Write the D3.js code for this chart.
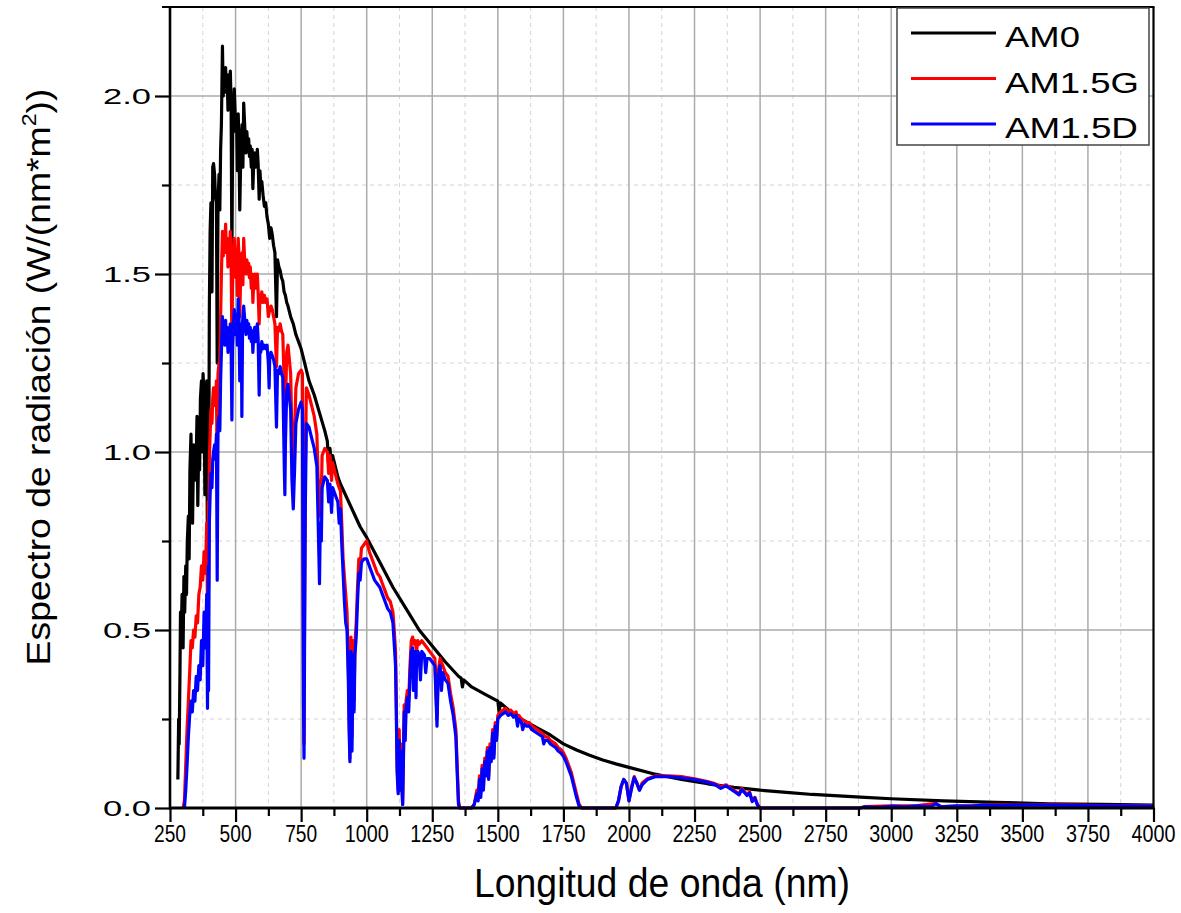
<!DOCTYPE html>
<html><head><meta charset="utf-8">
<script src="https://cdn.jsdelivr.net/npm/d3@7"></script>
<style>
body{margin:0;background:#fff}
svg{display:block}
text{font-family:"Liberation Sans",Arial,sans-serif;fill:#000}
</style>
</head><body>
<svg id="chart" width="1181" height="913"></svg>
<script>
// ---- data (wavelength nm, irradiance W/(nm*m^2)) ----
const am0 = [[280,0.08],[283,0.25],[285,0.18],[288,0.38],[290,0.55],[293,0.48],[296,0.60],[300,0.45],[303,0.65],[306,0.55],[310,0.68],[313,0.60],[316,0.75],[320,0.82],[323,0.70],[326,0.95],[330,1.05],[333,0.90],[336,0.80],[340,1.02],[343,0.92],[346,1.00],[350,0.98],[353,1.10],[356,0.85],[360,1.05],[363,0.95],[366,1.15],[370,1.20],[373,1.00],[376,1.22],[380,1.15],[383,0.88],[386,1.08],[390,1.20],[393,0.65],[396,1.15],[397,0.75],[400,1.40],[403,1.62],[406,1.70],[410,1.45],[413,1.80],[416,1.81],[420,1.78],[423,1.72],[427,1.70],[430,1.25],[433,1.70],[437,1.78],[440,1.68],[443,1.85],[446,1.92],[450,2.14],[453,2.00],[456,2.06],[459,2.04],[462,2.08],[465,2.01],[468,2.06],[471,1.96],[474,2.04],[477,2.03],[480,2.07],[483,1.98],[486,1.55],[489,1.90],[492,1.95],[495,2.02],[498,1.96],[501,1.90],[504,1.93],[507,1.79],[510,1.95],[513,1.88],[516,1.68],[519,1.80],[522,1.87],[525,1.92],[528,1.80],[531,1.98],[534,1.93],[537,1.88],[540,1.84],[543,1.90],[546,1.86],[550,1.88],[553,1.83],[556,1.86],[560,1.80],[563,1.85],[566,1.74],[570,1.83],[573,1.84],[576,1.80],[580,1.82],[583,1.85],[586,1.81],[590,1.71],[593,1.79],[596,1.75],[600,1.76],[605,1.72],[610,1.69],[615,1.70],[620,1.66],[625,1.64],[630,1.60],[635,1.63],[640,1.61],[645,1.58],[650,1.56],[656,1.38],[660,1.54],[665,1.52],[670,1.51],[675,1.49],[680,1.48],[685,1.45],[690,1.44],[695,1.42],[700,1.41],[710,1.38],[720,1.36],[730,1.33],[740,1.31],[750,1.29],[760,1.26],[770,1.23],[780,1.20],[790,1.18],[800,1.16],[820,1.11],[840,1.06],[850,1.03],[854,0.97],[860,1.01],[866,0.96],[870,0.99],[880,0.96],[890,0.93],[900,0.91],[925,0.87],[950,0.83],[975,0.79],[1000,0.76],[1050,0.69],[1100,0.62],[1150,0.56],[1200,0.50],[1250,0.455],[1300,0.41],[1350,0.37],[1360,0.365],[1365,0.34],[1370,0.36],[1400,0.34],[1450,0.32],[1500,0.30],[1505,0.27],[1510,0.295],[1550,0.27],[1600,0.245],[1650,0.225],[1700,0.205],[1750,0.18],[1800,0.163],[1850,0.148],[1900,0.135],[1950,0.124],[2000,0.114],[2100,0.095],[2200,0.08],[2300,0.068],[2400,0.058],[2500,0.050],[2600,0.044],[2700,0.038],[2800,0.034],[2900,0.030],[3000,0.026],[3200,0.020],[3400,0.016],[3600,0.012],[3800,0.010],[4000,0.008]];

const am15g = [[300,0.0],[305,0.02],[310,0.12],[315,0.22],[320,0.30],[325,0.38],[330,0.47],[335,0.45],[340,0.50],[345,0.48],[350,0.54],[355,0.52],[360,0.60],[365,0.62],[370,0.68],[375,0.64],[380,0.72],[385,0.66],[390,0.80],[393,0.55],[396,0.86],[397,0.62],[400,0.98],[403,1.05],[406,1.12],[410,1.08],[413,1.15],[416,1.18],[420,1.17],[423,1.13],[427,1.20],[430,0.90],[433,1.22],[437,1.25],[440,1.20],[443,1.38],[446,1.50],[450,1.62],[453,1.55],[456,1.60],[459,1.57],[462,1.64],[465,1.56],[468,1.60],[471,1.52],[474,1.58],[477,1.56],[480,1.62],[483,1.54],[486,1.32],[489,1.50],[492,1.55],[495,1.60],[498,1.56],[501,1.49],[504,1.53],[507,1.44],[510,1.60],[513,1.55],[516,1.38],[519,1.48],[522,1.52],[525,1.56],[528,1.47],[531,1.60],[534,1.55],[537,1.52],[540,1.50],[543,1.54],[546,1.50],[550,1.53],[553,1.49],[556,1.52],[560,1.46],[563,1.50],[566,1.42],[570,1.49],[573,1.50],[576,1.46],[580,1.48],[583,1.50],[586,1.45],[590,1.36],[593,1.44],[596,1.42],[600,1.45],[605,1.42],[610,1.44],[615,1.42],[620,1.43],[625,1.38],[630,1.40],[635,1.41],[640,1.40],[645,1.38],[650,1.36],[656,1.24],[660,1.35],[665,1.34],[670,1.36],[675,1.34],[680,1.33],[686,1.18],[688,1.00],[690,1.12],[695,1.28],[700,1.30],[710,1.22],[715,1.05],[720,0.98],[725,1.05],[730,1.18],[740,1.22],[750,1.23],[755,1.22],[759,0.40],[761,0.18],[763,0.55],[766,0.95],[770,1.18],[780,1.16],[790,1.13],[800,1.10],[810,1.05],[815,0.92],[820,0.82],[823,0.92],[827,0.88],[830,0.99],[840,1.01],[850,1.00],[855,0.94],[860,0.99],[866,0.92],[870,0.97],[880,0.94],[890,0.91],[900,0.89],[905,0.80],[910,0.70],[915,0.65],[920,0.60],[925,0.55],[930,0.40],[933,0.25],[936,0.14],[940,0.48],[944,0.20],[948,0.47],[952,0.30],[955,0.46],[960,0.52],[965,0.62],[970,0.70],[975,0.68],[980,0.73],[990,0.74],[1000,0.75],[1010,0.72],[1020,0.70],[1030,0.68],[1040,0.66],[1050,0.65],[1060,0.63],[1070,0.61],[1080,0.59],[1090,0.58],[1100,0.55],[1105,0.50],[1110,0.44],[1113,0.30],[1116,0.12],[1120,0.05],[1124,0.22],[1127,0.06],[1130,0.18],[1133,0.10],[1137,0.01],[1140,0.15],[1143,0.29],[1147,0.22],[1150,0.30],[1155,0.33],[1160,0.30],[1165,0.40],[1170,0.47],[1175,0.48],[1180,0.46],[1185,0.47],[1190,0.44],[1195,0.47],[1200,0.46],[1210,0.47],[1220,0.46],[1230,0.45],[1240,0.44],[1250,0.43],[1260,0.42],[1268,0.25],[1272,0.38],[1280,0.42],[1290,0.40],[1300,0.38],[1310,0.37],[1320,0.32],[1330,0.28],[1340,0.22],[1345,0.12],[1350,0.02],[1355,0.0],[1400,0.0],[1410,0.01],[1420,0.05],[1425,0.03],[1430,0.09],[1435,0.04],[1440,0.12],[1445,0.06],[1450,0.14],[1455,0.10],[1460,0.17],[1465,0.09],[1470,0.18],[1475,0.14],[1480,0.22],[1485,0.15],[1490,0.24],[1495,0.20],[1500,0.26],[1510,0.27],[1520,0.275],[1530,0.28],[1540,0.27],[1550,0.275],[1560,0.265],[1570,0.27],[1575,0.24],[1580,0.26],[1590,0.25],[1600,0.245],[1610,0.24],[1620,0.24],[1630,0.23],[1640,0.225],[1650,0.22],[1660,0.215],[1670,0.21],[1680,0.20],[1690,0.20],[1700,0.19],[1710,0.185],[1720,0.18],[1730,0.17],[1740,0.165],[1750,0.155],[1760,0.14],[1770,0.12],[1780,0.10],[1790,0.07],[1800,0.04],[1810,0.01],[1820,0.0],[1950,0.0],[1960,0.02],[1970,0.06],[1980,0.08],[1990,0.07],[2000,0.02],[2010,0.06],[2020,0.088],[2030,0.07],[2040,0.05],[2050,0.07],[2070,0.082],[2100,0.09],[2150,0.09],[2200,0.088],[2250,0.082],[2300,0.074],[2330,0.068],[2350,0.06],[2370,0.065],[2400,0.05],[2420,0.04],[2430,0.055],[2450,0.038],[2460,0.045],[2470,0.02],[2480,0.03],[2490,0.01],[2500,0.0],[2880,0.0],[2900,0.004],[3000,0.006],[3100,0.007],[3170,0.013],[3190,0.004],[3300,0.006],[3400,0.009],[3500,0.008],[3600,0.009],[3700,0.008],[3800,0.007],[3900,0.007],[4000,0.006]];

const am15d = [[305,0.0],[310,0.05],[315,0.12],[320,0.20],[325,0.26],[330,0.30],[335,0.27],[340,0.33],[345,0.30],[350,0.37],[355,0.33],[360,0.40],[365,0.36],[370,0.47],[375,0.40],[380,0.55],[385,0.45],[390,0.60],[393,0.28],[396,0.68],[397,0.33],[400,0.80],[403,0.88],[406,0.94],[410,0.90],[413,0.98],[416,1.00],[420,1.02],[423,0.98],[427,1.05],[430,0.64],[433,1.08],[437,1.10],[440,1.06],[443,1.20],[446,1.28],[450,1.38],[453,1.32],[456,1.36],[459,1.30],[462,1.37],[465,1.31],[468,1.35],[471,1.28],[474,1.34],[477,1.32],[480,1.36],[483,1.30],[486,1.09],[489,1.30],[492,1.35],[495,1.40],[498,1.38],[501,1.33],[504,1.37],[507,1.30],[510,1.43],[513,1.38],[516,1.20],[519,1.33],[522,1.36],[524,1.10],[527,1.37],[531,1.41],[534,1.38],[537,1.35],[540,1.33],[543,1.37],[546,1.34],[550,1.36],[553,1.32],[556,1.35],[560,1.31],[563,1.34],[566,1.28],[570,1.34],[573,1.35],[576,1.31],[580,1.34],[583,1.36],[586,1.32],[590,1.16],[593,1.30],[596,1.28],[600,1.31],[605,1.29],[610,1.30],[615,1.29],[620,1.30],[625,1.25],[628,1.18],[630,1.26],[635,1.28],[640,1.27],[645,1.26],[650,1.24],[656,1.07],[660,1.23],[665,1.22],[670,1.24],[675,1.22],[680,1.21],[686,0.95],[688,0.88],[690,1.02],[695,1.17],[700,1.19],[710,1.12],[715,0.92],[720,0.84],[725,0.95],[730,1.08],[740,1.12],[750,1.14],[755,1.12],[759,0.30],[761,0.14],[763,0.45],[766,0.85],[770,1.08],[780,1.07],[790,1.04],[800,1.01],[810,0.96],[815,0.80],[820,0.63],[823,0.80],[827,0.75],[830,0.90],[840,0.93],[850,0.92],[855,0.86],[860,0.91],[866,0.83],[870,0.90],[880,0.88],[890,0.86],[895,0.80],[900,0.84],[905,0.74],[910,0.66],[915,0.58],[920,0.52],[925,0.50],[930,0.36],[933,0.22],[936,0.13],[940,0.44],[944,0.16],[948,0.43],[952,0.27],[955,0.43],[960,0.48],[965,0.58],[970,0.66],[975,0.64],[980,0.69],[990,0.70],[1000,0.70],[1010,0.68],[1020,0.66],[1030,0.64],[1040,0.63],[1050,0.62],[1060,0.60],[1070,0.58],[1080,0.56],[1090,0.55],[1100,0.52],[1105,0.46],[1110,0.40],[1113,0.26],[1116,0.10],[1120,0.04],[1124,0.19],[1127,0.05],[1130,0.16],[1133,0.08],[1137,0.01],[1140,0.13],[1143,0.27],[1147,0.19],[1150,0.28],[1155,0.31],[1160,0.27],[1165,0.37],[1170,0.44],[1175,0.45],[1178,0.33],[1180,0.43],[1185,0.44],[1188,0.31],[1190,0.41],[1195,0.44],[1200,0.43],[1205,0.36],[1210,0.44],[1220,0.43],[1225,0.38],[1230,0.42],[1240,0.42],[1250,0.41],[1260,0.40],[1268,0.23],[1272,0.36],[1280,0.40],[1285,0.33],[1290,0.38],[1300,0.36],[1310,0.35],[1320,0.30],[1330,0.26],[1340,0.20],[1345,0.10],[1350,0.01],[1355,0.0],[1400,0.0],[1410,0.01],[1420,0.04],[1425,0.02],[1430,0.08],[1435,0.03],[1440,0.11],[1445,0.05],[1450,0.13],[1455,0.09],[1460,0.16],[1465,0.08],[1470,0.17],[1475,0.13],[1480,0.21],[1485,0.14],[1490,0.23],[1495,0.19],[1500,0.25],[1510,0.26],[1520,0.265],[1530,0.27],[1540,0.26],[1550,0.265],[1560,0.255],[1570,0.26],[1575,0.23],[1580,0.25],[1590,0.24],[1595,0.22],[1600,0.235],[1610,0.23],[1620,0.23],[1630,0.22],[1640,0.215],[1650,0.21],[1660,0.205],[1670,0.20],[1675,0.18],[1680,0.19],[1690,0.19],[1700,0.18],[1710,0.175],[1720,0.17],[1730,0.16],[1740,0.155],[1750,0.145],[1760,0.13],[1770,0.11],[1780,0.09],[1790,0.06],[1800,0.03],[1810,0.005],[1820,0.0],[1950,0.0],[1960,0.02],[1970,0.06],[1980,0.08],[1990,0.07],[2000,0.02],[2010,0.055],[2020,0.085],[2030,0.07],[2040,0.05],[2050,0.065],[2070,0.08],[2100,0.088],[2150,0.088],[2200,0.085],[2250,0.08],[2300,0.072],[2330,0.065],[2350,0.055],[2370,0.062],[2400,0.047],[2420,0.037],[2430,0.052],[2450,0.035],[2460,0.042],[2470,0.018],[2480,0.028],[2490,0.008],[2500,0.0],[2880,0.0],[2900,0.003],[2950,0.002],[3000,0.005],[3050,0.003],[3100,0.006],[3150,0.004],[3170,0.012],[3190,0.003],[3250,0.006],[3300,0.005],[3350,0.008],[3400,0.007],[3500,0.008],[3600,0.008],[3700,0.007],[3800,0.006],[3900,0.006],[4000,0.005]];

const seriesNames = ["AM0","AM1.5G","AM1.5D"];
const seriesColors = ["#000000","#ff0000","#0000ff"];
const xTickValues = [250,500,750,1000,1250,1500,1750,2000,2250,2500,2750,3000,3250,3500,3750,4000];
const yTickValues = [0,0.5,1.0,1.5,2.0];
const xTitle = "Longitud de onda (nm)";
const yTitle = "Espectro de radiación (W/(nm*m";

// ---- layout ----
const L = 170, R = 1153.5, T = 7, B = 808;
const svg = d3.select("#chart");
const x = d3.scaleLinear().domain([250, 4000]).range([L, R]);
const y = d3.scaleLinear().domain([0, 2.25]).range([B, T]);

function stretch(sel, target) {
  const w = sel.node().getComputedTextLength();
  return target / w;
}

// ---- grid ----
const grid = svg.append("g");
const xMinor = d3.range(375, 4000, 250);
const yMinor = [0.25, 0.75, 1.25, 1.75, 2.25];
grid.selectAll(".xm").data(xMinor).join("line")
  .attr("x1", d => x(d)).attr("x2", d => x(d)).attr("y1", T).attr("y2", B)
  .attr("stroke", "#d4d4d4").attr("stroke-width", 1).attr("stroke-dasharray", "4,4");
grid.selectAll(".ym").data(yMinor).join("line")
  .attr("y1", d => y(d)).attr("y2", d => y(d)).attr("x1", L).attr("x2", R)
  .attr("stroke", "#d4d4d4").attr("stroke-width", 1).attr("stroke-dasharray", "4,4");
grid.selectAll(".xM").data(xTickValues.slice(1, -1)).join("line")
  .attr("x1", d => x(d)).attr("x2", d => x(d)).attr("y1", T).attr("y2", B)
  .attr("stroke", "#ababab").attr("stroke-width", 1.5);
grid.selectAll(".yM").data(yTickValues.slice(1)).join("line")
  .attr("y1", d => y(d)).attr("y2", d => y(d)).attr("x1", L).attr("x2", R)
  .attr("stroke", "#ababab").attr("stroke-width", 1.5);

// ---- lines ----
const line = d3.line().x(d => x(d[0])).y(d => y(d[1]));
[am0, am15g, am15d].forEach((s, i) => {
  svg.append("path").datum(s).attr("d", line)
    .attr("fill", "none").attr("stroke", seriesColors[i])
    .attr("stroke-width", 3.2).attr("stroke-linejoin", "round");
});

// ---- axes ----
const xAxisMajor = d3.axisBottom(x).tickValues(xTickValues).tickSize(14).tickFormat("");
const xAxisMinor = d3.axisBottom(x).tickValues(xMinor).tickSize(8).tickFormat("");
const yAxisMajor = d3.axisLeft(y).tickValues(yTickValues).tickSize(15).tickFormat("");
const yAxisMinor = d3.axisLeft(y).tickValues(yMinor.slice(0, 4)).tickSize(8).tickFormat("");
[xAxisMajor, xAxisMinor].forEach(a => {
  const g = svg.append("g").attr("transform", `translate(0,${B})`).call(a);
  g.select(".domain").remove();
  g.selectAll("line").attr("stroke", "#000").attr("stroke-width", 2.2);
});
[yAxisMajor, yAxisMinor].forEach(a => {
  const g = svg.append("g").attr("transform", `translate(${L},0)`).call(a);
  g.select(".domain").remove();
  g.selectAll("line").attr("stroke", "#000").attr("stroke-width", 2.2);
});
svg.append("line").attr("x1", L).attr("x2", L).attr("y1", T - 1).attr("y2", B + 1.5).attr("stroke", "#000").attr("stroke-width", 2.6);
svg.append("line").attr("x1", L - 1).attr("x2", R + 1).attr("y1", B).attr("y2", B).attr("stroke", "#000").attr("stroke-width", 3);
svg.append("line").attr("x1", L - 8).attr("x2", R + 1).attr("y1", T).attr("y2", T).attr("stroke", "#000").attr("stroke-width", 2.2);
svg.append("line").attr("x1", R).attr("x2", R).attr("y1", T).attr("y2", B).attr("stroke", "#000").attr("stroke-width", 2.2);

// ---- tick labels ----
xTickValues.forEach(v => {
  const t = svg.append("text").attr("text-anchor", "middle").attr("font-size", 23).text(String(v));
  const target = String(v).length === 3 ? 32 : 44;
  const s = stretch(t, target);
  t.attr("transform", `translate(${x(v)},${B + 34}) scale(${s},1)`);
});
yTickValues.forEach(v => {
  const t = svg.append("text").attr("text-anchor", "end").attr("font-size", 21.5).text(v.toFixed(1));
  const s = stretch(t, 48);
  t.attr("transform", `translate(151,${y(v) + 7.5}) scale(${s},1)`);
});

// ---- titles ----
{
  const t = svg.append("text").attr("text-anchor", "middle").attr("font-size", 41).text(xTitle);
  const s = stretch(t, 376);
  t.attr("transform", `translate(662,897) scale(${s},1)`);
}
{
  const g = svg.append("g").attr("transform", "translate(50,377) rotate(-90)");
  const t = g.append("text").attr("text-anchor", "middle").attr("font-size", 34);
  t.append("tspan").text(yTitle);
  t.append("tspan").attr("font-size", 21).attr("dy", -14).text("2");
  t.append("tspan").attr("dy", 14).text("))");
  const s = stretch(t, 577);
  t.attr("transform", `scale(${s},1)`);
}

// ---- legend ----
const leg = svg.append("g");
leg.append("rect").attr("x", 897).attr("y", 8).attr("width", 252).attr("height", 137)
  .attr("fill", "#fff").attr("stroke", "#444").attr("stroke-width", 1.5);
const legTargets = [75, 134, 133];
seriesNames.forEach((n, i) => {
  const cy = 33 + i * 45.5;
  leg.append("line").attr("x1", 911).attr("x2", 996).attr("y1", cy).attr("y2", cy)
    .attr("stroke", seriesColors[i]).attr("stroke-width", 3);
  const t = leg.append("text").attr("font-size", 29).text(n);
  const s = stretch(t, legTargets[i]);
  t.attr("transform", `translate(1005,${cy + 14}) scale(${s},1)`);
});
</script>
</body></html>
